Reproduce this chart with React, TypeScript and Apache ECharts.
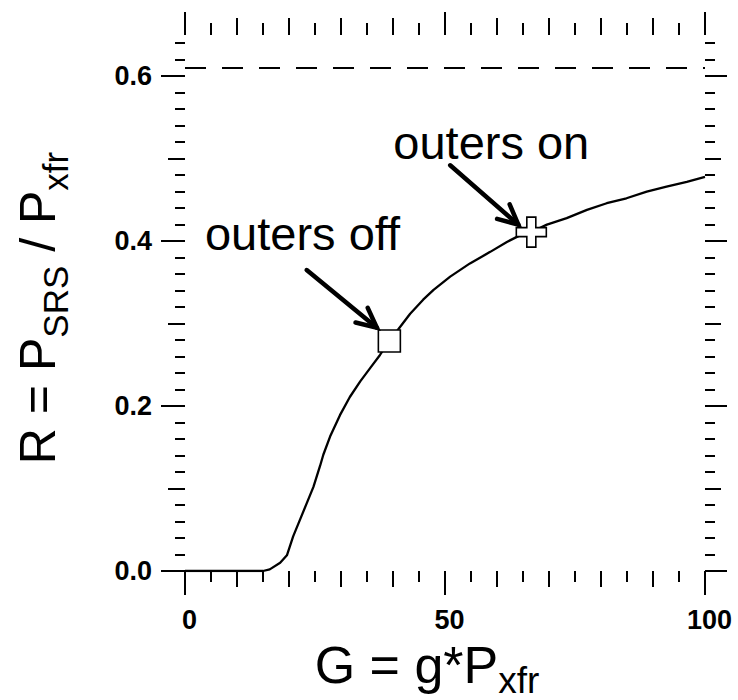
import React, { useEffect, useRef } from "react";
import * as echarts from "echarts";

// Reflectivity R = P_SRS / P_xfr as a function of the gain G = g*P_xfr
const gainG = [
  0, 5, 10, 15, 16.3, 18.3, 19.6, 20.8, 22.1, 23.4, 24.7, 26.0, 26.6, 27.9,
  29.8, 31.7, 33.7, 35.6, 37.5, 39.3, 43.3, 45.8, 47.8, 51.0, 54.8, 58.7,
  61.9, 64.4, 66.6, 69.6, 73.4, 77.3, 81.1, 84.9, 88.8, 92.6, 96.5, 100,
];
const ratioR = [
  0, 0, 0, 0, 0.002, 0.01, 0.019, 0.042, 0.062, 0.082, 0.102, 0.128, 0.141,
  0.163, 0.189, 0.211, 0.23, 0.246, 0.262, 0.279, 0.312, 0.329, 0.341, 0.357,
  0.373, 0.387, 0.399, 0.407, 0.411, 0.42, 0.428, 0.438, 0.446, 0.452, 0.46,
  0.466, 0.472, 0.478,
];

// operating points
const outersOffPoint = [39.3, 0.279];
const outersOnPoint = [66.6, 0.411];

// saturation level (dashed)
const saturationR = 0.612;

// annotation texts, their anchors and arrows [fromG, fromR, toG, toR]
const annotationTexts = ["outers off", "outers on"];
const annotationAnchors = [
  [22.6, 0.409],
  [58.9, 0.52],
];
const annotationArrows = [
  [23.4, 0.365, 36.9, 0.295],
  [51.0, 0.492, 64.1, 0.42],
];

// axis ranges and tick positions
const gRange = [0, 100];
const rRange = [0, 0.65];
const gMajorTicks = [0, 50, 100];
const gMidTicks = [10, 20, 30, 40, 60, 70, 80, 90];
const gMinorTicks = [5, 15, 25, 35, 45, 55, 65, 75, 85, 95];
const rMajorTicks = [0, 0.2, 0.4, 0.6];
const rMidTicks = [0.1, 0.3, 0.5];
const rMinorTicks = [
  0.02, 0.04, 0.06, 0.08, 0.12, 0.14, 0.16, 0.18, 0.22, 0.24, 0.26, 0.28,
  0.32, 0.34, 0.36, 0.38, 0.42, 0.44, 0.46, 0.48, 0.52, 0.54, 0.56, 0.58,
  0.62, 0.64,
];

const FONT = "'Liberation Sans', Arial, Helvetica, sans-serif";
const INK = "#000";

function gAxis(position: string, ticks: number[], len: number, labels: boolean) {
  return {
    type: "value",
    gridIndex: 0,
    position,
    min: gRange[0],
    max: gRange[1],
    axisLine: { show: false, onZero: false },
    axisTick: {
      show: true,
      inside: false,
      length: len,
      customValues: ticks,
      lineStyle: { color: INK, width: 2 },
    },
    axisLabel: labels
      ? {
          show: true,
          customValues: ticks,
          margin: 35,
          padding: [0, 0, 0, 9],
          color: INK,
          fontSize: 27,
          fontWeight: "bold",
          fontFamily: FONT,
        }
      : { show: false },
    splitLine: { show: false },
  };
}

function rAxis(position: string, ticks: number[], len: number, labels: boolean) {
  return {
    type: "value",
    gridIndex: 0,
    position,
    min: rRange[0],
    max: rRange[1],
    axisLine: { show: false, onZero: false },
    axisTick: {
      show: true,
      inside: false,
      length: len,
      customValues: ticks,
      lineStyle: { color: INK, width: 2 },
    },
    axisLabel: labels
      ? {
          show: true,
          customValues: ticks,
          margin: 33,
          color: INK,
          fontSize: 27,
          fontWeight: "bold",
          fontFamily: FONT,
          formatter: (v: number) => v.toFixed(1),
        }
      : { show: false },
    splitLine: { show: false },
  };
}

// big letters with a lowered, smaller subscript
function subscriptRich(main: number, sub: number, lineHeight: number) {
  return {
    m: { fontSize: main, fontFamily: FONT, fill: INK, verticalAlign: "top" },
    s: {
      fontSize: sub,
      fontFamily: FONT,
      fill: INK,
      verticalAlign: "bottom",
      lineHeight,
    },
  };
}

export default function App() {
  const ref = useRef<HTMLDivElement>(null);

  useEffect(() => {
    if (!ref.current) return;
    const chart = echarts.init(ref.current, undefined, { renderer: "svg" });

    const curve = gainG.map((g, i) => [g, ratioR[i]]);

    chart.setOption({
      animation: false,
      backgroundColor: "#fff",
      grid: { left: 185, right: 33, top: 35, bottom: 129, containLabel: false },
      xAxis: [
        gAxis("bottom", gMajorTicks, 24, true),
        gAxis("bottom", gMidTicks, 16, false),
        gAxis("bottom", gMinorTicks, 11, false),
        gAxis("top", gMajorTicks, 23, false),
        gAxis("top", gMidTicks, 17, false),
        gAxis("top", gMinorTicks, 12, false),
      ],
      yAxis: [
        rAxis("left", rMajorTicks, 24, true),
        rAxis("left", rMidTicks, 17, false),
        rAxis("left", rMinorTicks, 10, false),
        rAxis("right", rMajorTicks, 22, false),
        rAxis("right", rMidTicks, 16, false),
        rAxis("right", rMinorTicks, 10, false),
      ],
      series: [
        {
          type: "line",
          xAxisIndex: 0,
          yAxisIndex: 0,
          data: curve,
          showSymbol: false,
          symbol: "none",
          lineStyle: { color: INK, width: 2.3 },
          z: 2,
          markLine: {
            silent: true,
            symbol: ["none", "none"],
            label: { show: false },
            lineStyle: { color: INK, width: 2, type: [21, 16] },
            data: [{ yAxis: saturationR }],
          },
        },
        {
          type: "scatter",
          xAxisIndex: 0,
          yAxisIndex: 0,
          data: [outersOffPoint],
          symbol: "rect",
          symbolSize: 22,
          itemStyle: {
            color: "#fff",
            opacity: 1,
            borderColor: INK,
            borderWidth: 1.6,
          },
          z: 4,
        },
        {
          type: "scatter",
          xAxisIndex: 0,
          yAxisIndex: 0,
          data: [outersOnPoint],
          symbol:
            "path://M10.5,0 H19.5 V10.5 H30 V19.5 H19.5 V30 H10.5 V19.5 H0 V10.5 H10.5 Z",
          symbolSize: 30,
          itemStyle: {
            color: "#fff",
            opacity: 1,
            borderColor: INK,
            borderWidth: 1.6,
          },
          z: 4,
        },
        {
          type: "custom",
          xAxisIndex: 0,
          yAxisIndex: 0,
          data: annotationArrows,
          silent: true,
          z: 5,
          renderItem: (_params: any, api: any) => {
            const a = api.coord([api.value(0), api.value(1)]);
            const b = api.coord([api.value(2), api.value(3)]);
            const ang = Math.atan2(b[1] - a[1], b[0] - a[0]);
            const head = 22;
            const spread = 0.45;
            const h1 = [
              b[0] - head * Math.cos(ang - spread),
              b[1] - head * Math.sin(ang - spread),
            ];
            const h2 = [
              b[0] - head * Math.cos(ang + spread),
              b[1] - head * Math.sin(ang + spread),
            ];
            return {
              type: "group",
              children: [
                {
                  type: "line",
                  shape: { x1: a[0], y1: a[1], x2: b[0], y2: b[1] },
                  style: { stroke: INK, lineWidth: 4.5, lineCap: "round" },
                },
                {
                  type: "polyline",
                  shape: { points: [h1, b, h2] },
                  style: {
                    stroke: INK,
                    fill: "none",
                    lineWidth: 4.5,
                    lineCap: "round",
                    lineJoin: "miter",
                  },
                },
              ],
            };
          },
        },
        {
          type: "custom",
          xAxisIndex: 0,
          yAxisIndex: 0,
          data: annotationAnchors,
          silent: true,
          z: 5,
          renderItem: (params: any, api: any) => {
            const p = api.coord([api.value(0), api.value(1)]);
            return {
              type: "text",
              x: p[0],
              y: p[1],
              style: {
                text: annotationTexts[params.dataIndex],
                fontSize: 47,
                fontFamily: FONT,
                fill: INK,
                align: "center",
                verticalAlign: "middle",
              },
            };
          },
        },
      ],
      graphic: [
        {
          type: "text",
          x: 427,
          y: 669,
          silent: true,
          style: {
            text: "{m|G = g*P}{s|xfr}",
            align: "center",
            verticalAlign: "middle",
            rich: subscriptRich(52, 37, 60),
          },
        },
        {
          type: "text",
          x: 43,
          y: 308,
          rotation: Math.PI / 2,
          silent: true,
          style: {
            text: "{m|R = P}{s|SRS}{m| / P}{s|xfr}",
            align: "center",
            verticalAlign: "middle",
            rich: subscriptRich(50, 35, 60),
          },
        },
      ],
    });

    return () => chart.dispose();
  }, []);

  return (
    <div
      ref={ref}
      style={{ position: "fixed", left: 0, top: 0, width: 738, height: 700 }}
    />
  );
}
